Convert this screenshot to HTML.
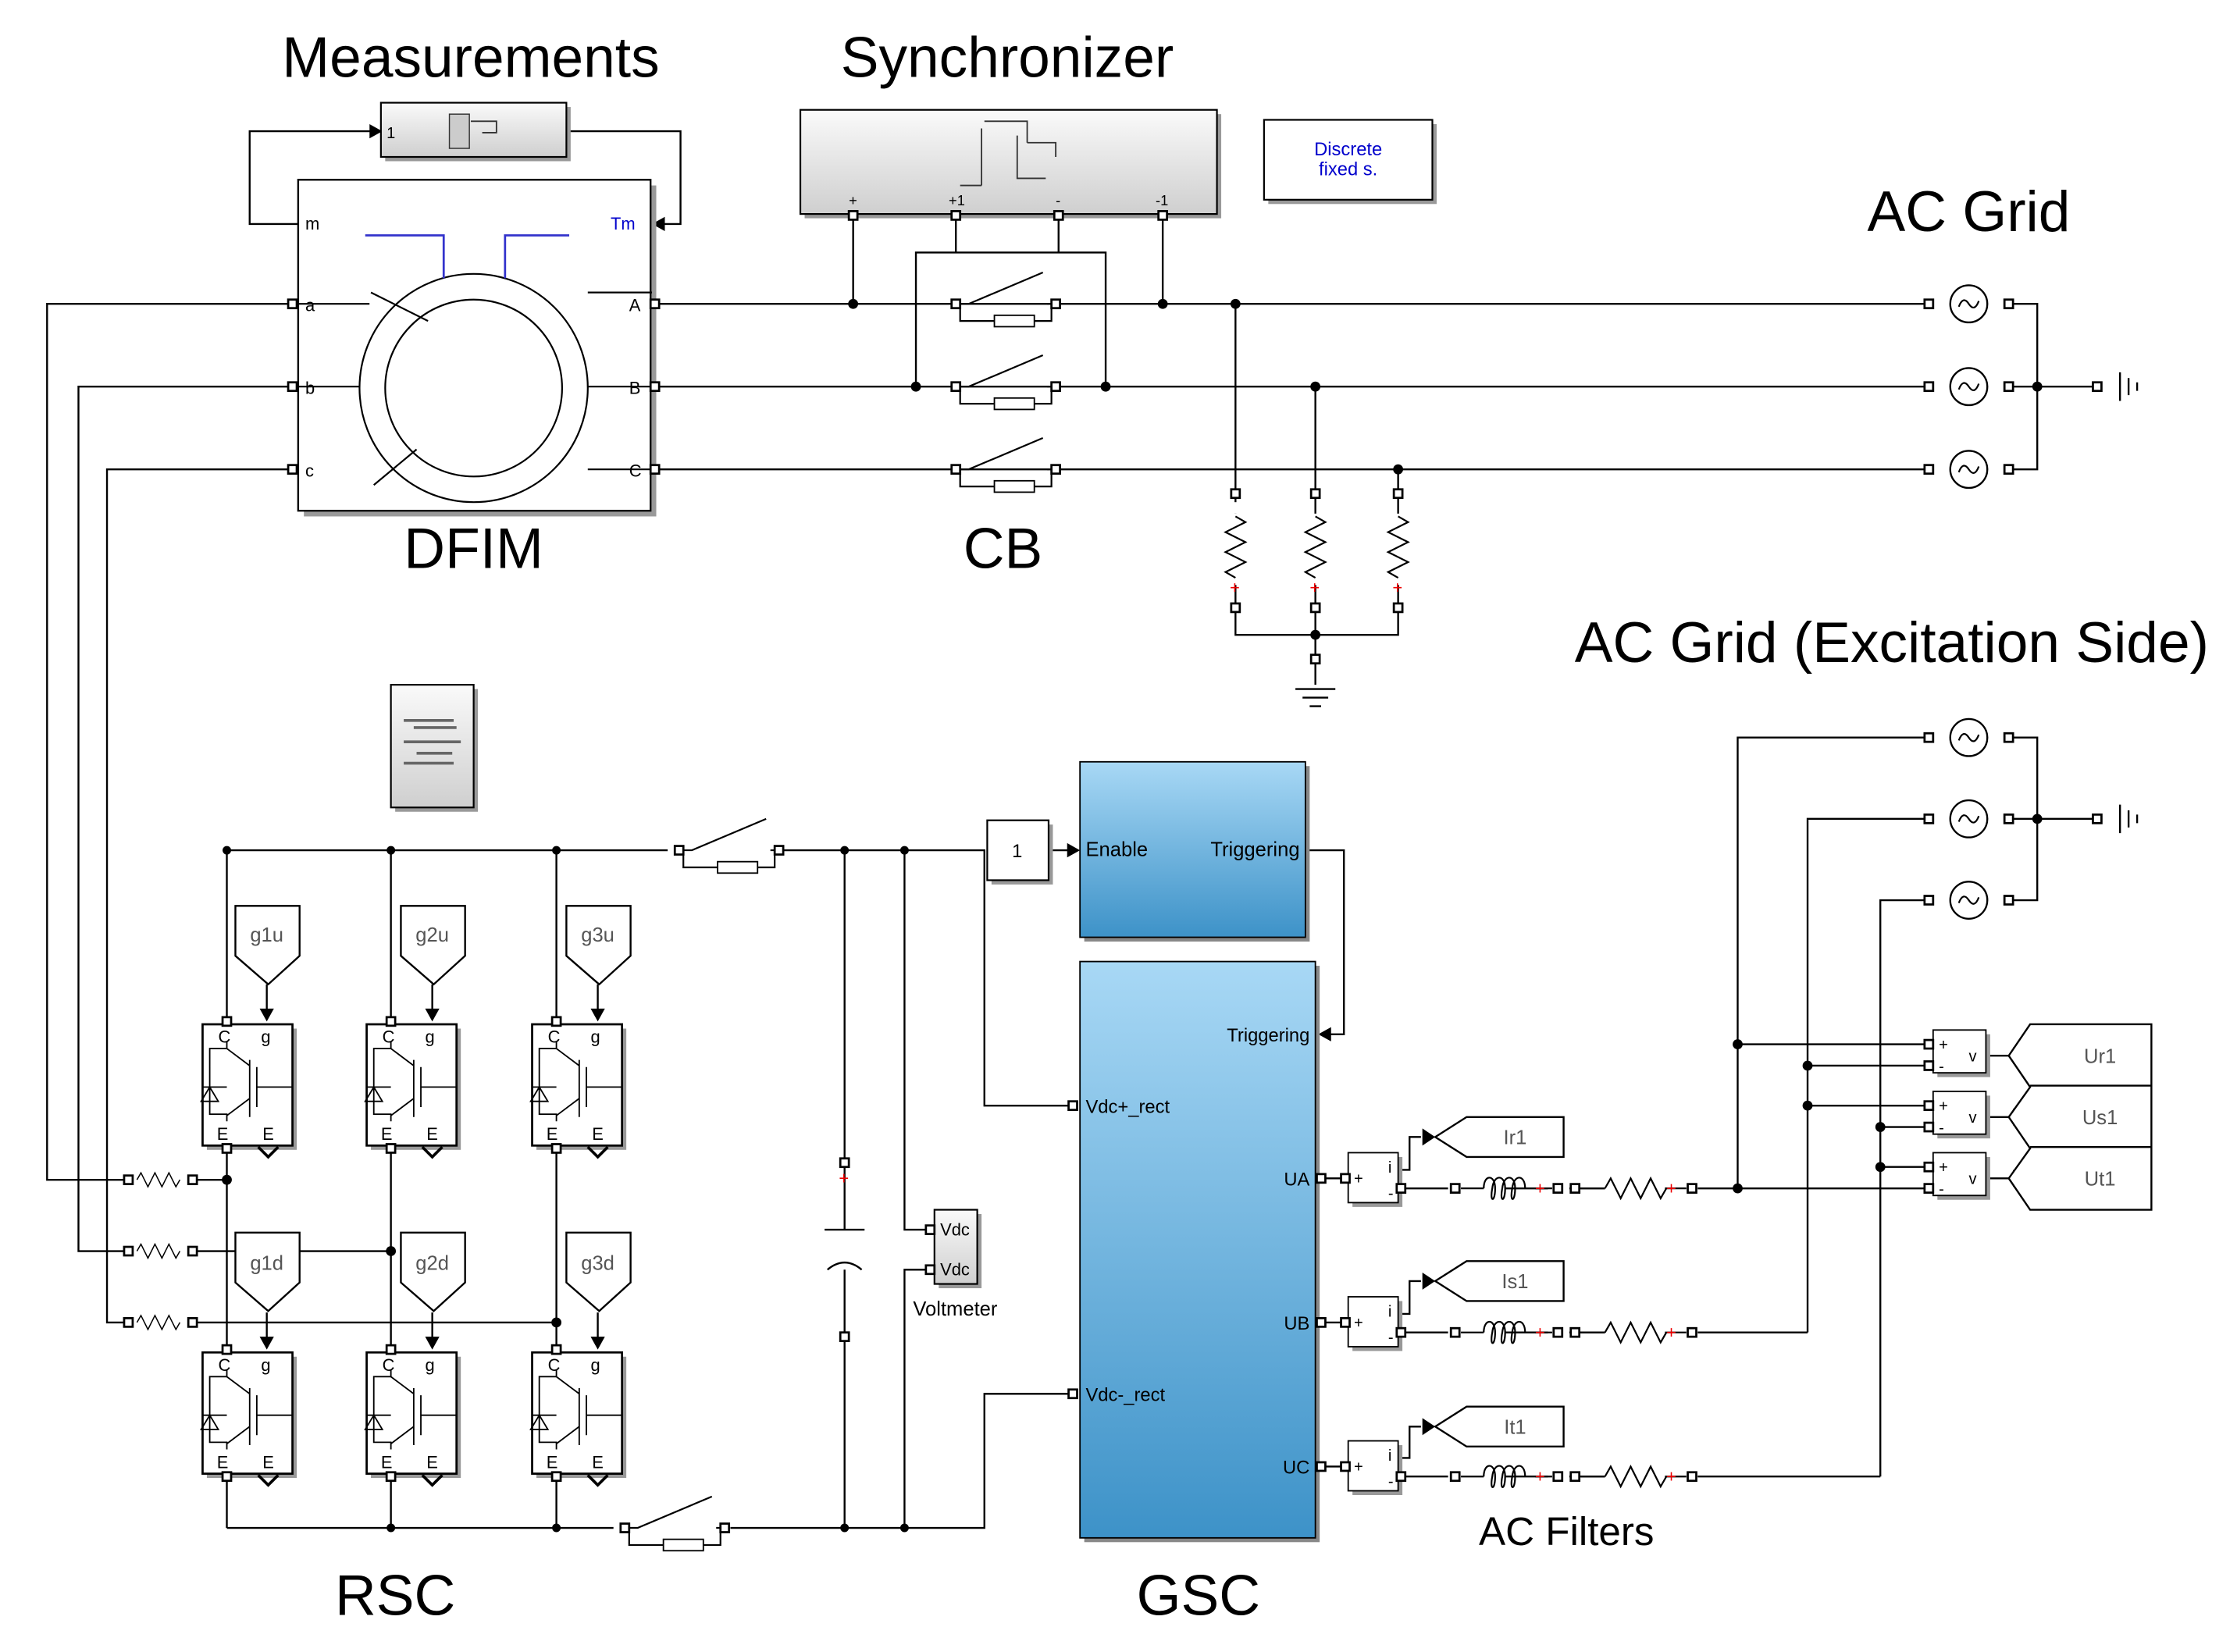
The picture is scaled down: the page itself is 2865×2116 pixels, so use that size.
<!DOCTYPE html>
<html><head><meta charset="utf-8"><style>
html,body{margin:0;padding:0;background:#fff}
svg{display:block}
text{font-family:"Liberation Sans",Arial,sans-serif}
</style></head><body>
<svg width="2865" height="2116" viewBox="0 0 1568 1158" preserveAspectRatio="none" xmlns="http://www.w3.org/2000/svg">
<defs>
<linearGradient id="gr" x1="0" y1="0" x2="0" y2="1"><stop offset="0" stop-color="#fafafa"/><stop offset="1" stop-color="#cfcfcf"/></linearGradient>
<linearGradient id="bl" x1="0" y1="0" x2="0" y2="1"><stop offset="0" stop-color="#a8d8f5"/><stop offset="1" stop-color="#3d92c8"/></linearGradient>
<g id="port"><rect x="-3" y="-3" width="6" height="6" fill="#fff" stroke="#000" stroke-width="1.5"/></g>
<g id="igbt">
<rect x="3" y="3" width="63" height="85" fill="#999"/>
<rect x="0" y="0" width="63" height="85" fill="#fff" stroke="#000" stroke-width="1.5"/>
<path d="M17 12 v5 h-12 v46 h12 v5 M17 17 l16 12 M33 25 v40 M33 52 l-16 12 M38 30 v28 M38 44 h25 M0 44 h17 M5 44 l-6 10 h12 z" fill="none" stroke="#000" stroke-width="1"/>
<use href="#port" x="17" y="-2"/><use href="#port" x="17" y="87"/>
<path d="M39 86 l7 7 l7 -7" fill="none" stroke="#000" stroke-width="2"/>
</g>
<g id="src"><circle r="13" fill="#fff" stroke="#000" stroke-width="1.3"/><path d="M-7 2 q3 -8 7 -2 q4 6 7 -2" fill="none" stroke="#000" stroke-width="1.2"/></g>
<g id="res"><path d="M0 0 l4 -7 l7 14 l7 -14 l7 14 l7 -14 l7 14 l4 -7" fill="none" stroke="#000" stroke-width="1.2"/></g>
<g id="ind"><path d="M0 0 c0 -10 8 -10 8 0 c0 10 -4 10 -2 0 c1 -10 9 -10 9 0 c0 10 -4 10 -2 0 c1 -10 9 -10 9 0 c0 10 -4 10 -2 0 c1 -10 9 -10 9 0" fill="none" stroke="#000" stroke-width="1.2"/></g>
<g id="tag"><path d="M0 0 h45 v35 l-22 20 l-23 -20 z" fill="#fff" stroke="#000" stroke-width="1.3"/></g>
<g id="tagL"><path d="M0 14 l22 -14 h68 v28 h-68 z" fill="#fff" stroke="#000" stroke-width="1.3"/></g>
<g id="brk"><use href="#port" x="0" y="0"/><use href="#port" x="70" y="0"/><path d="M3 0 h6 l52 -22 M64 0 h3 M3 0 v12 h24 M55 12 h12 v-12" fill="none" stroke="#000" stroke-width="1.2"/><rect x="27" y="8" width="28" height="8" fill="#fff" stroke="#000"/></g>
</defs>

<g font-size="40" text-anchor="middle" fill="#000">
<text x="330" y="54">Measurements</text>
<text x="706" y="54">Synchronizer</text>
<text x="1380" y="162">AC Grid</text>
<text x="332" y="398">DFIM</text>
<text x="703" y="398">CB</text>
<text x="1326" y="464">AC Grid (Excitation Side)</text>
<text x="277" y="1132">RSC</text>
<text x="840" y="1132">GSC</text>
<text x="1098" y="1083" font-size="28">AC Filters</text>
</g>

<g stroke="#000" stroke-width="1.3" fill="none">
<!-- measurement feedback -->
<path d="M210 157 H175 V92 H262"/>
<path d="M397 92 H477 V157 H462"/>
<!-- three phase main -->
<path d="M456 213 H1350 M456 271 H1350 M456 329 H1350"/>
<path d="M1410 213 H1428 V329 H1410 M1410 271 H1470"/>
<!-- sync -->
<path d="M598 150 V213 M670 150 V177 H642 V271 M742 150 V177 H775 V271 M670 177 H742 M815 150 V213"/>
<!-- loads -->
<path d="M866 213 V360 M922 271 V360 M980 329 V360 M866 410 V445 H980 V410 M922 410 V480"/>
<!-- left feeders -->
<path d="M206 213 H33 V827 H90 M206 271 H55 V877 H90 M206 329 H75 V927 H90"/>
<path d="M135 827 H159 M135 877 H274 M135 927 H390"/>
<!-- dc bus -->
<path d="M159 596 H468 M548 596 H690 V775 H752 M159 1071 H430 M512 1071 H690 V977 H752"/>
<path d="M159 596 V716 M274 596 V716 M390 596 V716 M159 805 V946 M274 805 V946 M390 805 V946 M159 1035 V1071 M274 1035 V1071 M390 1035 V1071"/>
<path d="M592 596 V862 M592 890 V1071 M634 596 V862 H655 M634 1071 V890 H655"/>
<path d="M578 862 h28 M580 890 q12 -10 24 0"/>
<!-- gate arrows -->
<path d="M187 690 V712 M303 690 V712 M419 690 V712 M187 920 V942 M303 920 V942 M419 920 V942"/>
<!-- enable/trigger -->
<path d="M735 596 H750 M915 596 H942 V725 H932"/>
<!-- GSC outputs -->
<path d="M922 826 H945 M922 927 H945 M922 1028 H945"/>
<path d="M980 820 H988 V797 H996 M980 921 H988 V898 H996 M980 1022 H988 V1000 H996"/>
<path d="M980 833 H1015 M1190 833 H1350 M980 934 H1015 M1190 934 H1267 M980 1035 H1015 M1190 1035 H1318"/>
<path d="M1055 833 H1085 M1100 833 H1125 M1055 934 H1085 M1100 934 H1125 M1055 1035 H1085 M1100 1035 H1125"/>
<!-- exc grid -->
<path d="M1218 833 V517 H1350 M1267 934 V574 H1350 M1318 1035 V631 H1350"/>
<path d="M1410 517 H1428 V631 H1410 M1410 574 H1470"/>
<path d="M1218 732 H1350 M1267 747 H1350 M1267 775 H1350 M1318 790 H1350 M1318 818 H1350"/>
<path d="M1392 740 H1410 M1392 783 H1410 M1392 826 H1410"/>
</g>

<!-- arrowheads -->
<g fill="#000">
<path d="M268 92 l-9 -5 v10z"/><path d="M457 157 l9 -5 v10z"/>
<path d="M757 596 l-9 -5 v10z"/><path d="M924 725 l9 -5 v10z"/>
<path d="M187 716 l-5 -9 h10z"/><path d="M303 716 l-5 -9 h10z"/><path d="M419 716 l-5 -9 h10z"/>
<path d="M187 946 l-5 -9 h10z"/><path d="M303 946 l-5 -9 h10z"/><path d="M419 946 l-5 -9 h10z"/>
<path d="M1006 797 l-9 -6 v12z"/><path d="M1006 898 l-9 -6 v12z"/><path d="M1006 1000 l-9 -6 v12z"/>
<path d="M1420 740 l-9 -6 v12z"/><path d="M1420 783 l-9 -6 v12z"/><path d="M1420 826 l-9 -6 v12z"/>
<circle cx="598" cy="213" r="3.5"/><circle cx="815" cy="213" r="3.5"/><circle cx="642" cy="271" r="3.5"/><circle cx="775" cy="271" r="3.5"/>
<circle cx="866" cy="213" r="3.5"/><circle cx="922" cy="271" r="3.5"/><circle cx="980" cy="329" r="3.5"/><circle cx="922" cy="445" r="3.5"/>
<circle cx="1428" cy="271" r="3.5"/><circle cx="1428" cy="574" r="3.5"/>
<circle cx="159" cy="827" r="3.5"/><circle cx="274" cy="877" r="3.5"/><circle cx="390" cy="927" r="3.5"/>
<circle cx="159" cy="596" r="3"/><circle cx="274" cy="596" r="3"/><circle cx="390" cy="596" r="3"/>
<circle cx="274" cy="1071" r="3"/><circle cx="390" cy="1071" r="3"/>
<circle cx="592" cy="596" r="3"/><circle cx="634" cy="596" r="3"/><circle cx="592" cy="1071" r="3"/><circle cx="634" cy="1071" r="3"/>
<circle cx="1218" cy="833" r="3.5"/><circle cx="1218" cy="732" r="3.5"/><circle cx="1267" cy="747" r="3.5"/><circle cx="1267" cy="775" r="3.5"/><circle cx="1318" cy="790" r="3.5"/><circle cx="1318" cy="818" r="3.5"/>
</g>

<!-- grounds -->
<g stroke="#000" stroke-width="1.3">
<path d="M908 483 h28 M913 489 h18 M918 495 h8"/>
<path d="M1486 261 v20 M1492 265 v12 M1498 268 v6"/>
<path d="M1486 564 v20 M1492 568 v12 M1498 571 v6"/>
</g>
<use href="#port" x="1470" y="271"/><use href="#port" x="1470" y="574"/>
<use href="#port" x="922" y="462"/>

<!-- Measurements block -->
<rect x="270" y="75" width="130" height="38" fill="#999"/>
<rect x="267" y="72" width="130" height="38" fill="url(#gr)" stroke="#000" stroke-width="1.2"/>
<text x="271" y="97" font-size="11">1</text>
<rect x="315" y="80" width="14" height="24" fill="#ccc" stroke="#333" stroke-width="0.8"/>
<path d="M330 85 h18 v8 h-10" fill="none" stroke="#333"/>

<!-- DFIM -->
<rect x="213" y="130" width="247" height="232" fill="#999"/>
<rect x="209" y="126" width="247" height="232" fill="#fff" stroke="#000" stroke-width="1.3"/>
<g stroke="#000" stroke-width="1.2" fill="none">
<circle cx="332" cy="272" r="80"/><circle cx="332" cy="272" r="62"/>
<path d="M260 205 l40 20 M412 205 h45 M412 329 h45 M412 271 h45 M252 271 h-43 M262 340 l30 -25 M209 213 h50"/>
</g>
<path d="M256 165 h55 v30 M354 195 v-30 h45" fill="none" stroke="#33c" stroke-width="1.5"/>
<g font-size="12"><text x="214" y="161">m</text><text x="428" y="161" fill="#00c">Tm</text>
<text x="214" y="218">a</text><text x="214" y="276">b</text><text x="214" y="334">c</text>
<text x="441" y="218">A</text><text x="441" y="276">B</text><text x="441" y="334">C</text></g>
<use href="#port" x="205" y="213"/><use href="#port" x="205" y="271"/><use href="#port" x="205" y="329"/>
<use href="#port" x="459" y="213"/><use href="#port" x="459" y="271"/><use href="#port" x="459" y="329"/>

<!-- Synchronizer -->
<rect x="564" y="80" width="292" height="73" fill="#999"/>
<rect x="561" y="77" width="292" height="73" fill="url(#gr)" stroke="#000" stroke-width="1.2"/>
<path d="M690 85 h30 v15 M688 90 v40 M673 130 h15 M713 95 v30 h20 M720 100 h20 v10" fill="none" stroke="#333"/>
<g font-size="10"><text x="595" y="144">+</text><text x="665" y="144">+1</text><text x="740" y="144">-</text><text x="810" y="144">-1</text></g>
<use href="#port" x="598" y="151"/><use href="#port" x="670" y="151"/><use href="#port" x="742" y="151"/><use href="#port" x="815" y="151"/>
<rect x="889" y="87" width="118" height="56" fill="#999"/>
<rect x="886" y="84" width="118" height="56" fill="#fff" stroke="#000" stroke-width="1.2"/>
<text x="945" y="109" font-size="13" fill="#00c" text-anchor="middle">Discrete</text>
<text x="945" y="123" font-size="13" fill="#00c" text-anchor="middle">fixed s.</text>

<!-- breakers -->
<use href="#brk" x="670" y="213"/><use href="#brk" x="670" y="271"/><use href="#brk" x="670" y="329"/>
<use href="#brk" x="476" y="596"/><use href="#brk" x="438" y="1071"/>

<!-- loads -->
<use href="#port" x="866" y="346"/><use href="#port" x="922" y="346"/><use href="#port" x="980" y="346"/>
<use href="#port" x="866" y="426"/><use href="#port" x="922" y="426"/><use href="#port" x="980" y="426"/>
<g transform="translate(866 362) rotate(90)"><use href="#res"/></g>
<g transform="translate(922 362) rotate(90)"><use href="#res"/></g>
<g transform="translate(980 362) rotate(90)"><use href="#res"/></g>
<g fill="#e00" font-size="12"><text x="862" y="416">+</text><text x="918" y="416">+</text><text x="976" y="416">+</text></g>
<rect x="864" y="352" width="4" height="8" fill="#fff"/>

<!-- AC grid sources -->
<use href="#src" x="1380" y="213"/><use href="#src" x="1380" y="271"/><use href="#src" x="1380" y="329"/>
<use href="#src" x="1380" y="517"/><use href="#src" x="1380" y="574"/><use href="#src" x="1380" y="631"/>
<g>
<use href="#port" x="1352" y="213"/><use href="#port" x="1408" y="213"/><use href="#port" x="1352" y="271"/><use href="#port" x="1408" y="271"/><use href="#port" x="1352" y="329"/><use href="#port" x="1408" y="329"/>
<use href="#port" x="1352" y="517"/><use href="#port" x="1408" y="517"/><use href="#port" x="1352" y="574"/><use href="#port" x="1408" y="574"/><use href="#port" x="1352" y="631"/><use href="#port" x="1408" y="631"/>
</g>

<!-- powergui-like block -->
<rect x="277" y="483" width="58" height="86" fill="#999"/>
<rect x="274" y="480" width="58" height="86" fill="url(#gr)" stroke="#000" stroke-width="1.2"/>
<path d="M283 505 h35 M283 520 h40 M283 535 h35 M290 510 h30 M292 528 h25" stroke="#666" stroke-width="2"/>

<!-- gate tags -->
<use href="#tag" x="165" y="635"/><use href="#tag" x="281" y="635"/><use href="#tag" x="397" y="635"/>
<use href="#tag" x="165" y="864"/><use href="#tag" x="281" y="864"/><use href="#tag" x="397" y="864"/>
<g font-size="14" fill="#555" text-anchor="middle">
<text x="187" y="660">g1u</text><text x="303" y="660">g2u</text><text x="419" y="660">g3u</text>
<text x="187" y="890">g1d</text><text x="303" y="890">g2d</text><text x="419" y="890">g3d</text></g>

<!-- IGBTs -->
<use href="#igbt" x="142" y="718"/><use href="#igbt" x="257" y="718"/><use href="#igbt" x="373" y="718"/>
<use href="#igbt" x="142" y="948"/><use href="#igbt" x="257" y="948"/><use href="#igbt" x="373" y="948"/>
<g font-size="12">
<text x="153" y="731">C</text><text x="183" y="731">g</text><text x="152" y="799">E</text><text x="184" y="799">E</text>
<text x="268" y="731">C</text><text x="298" y="731">g</text><text x="267" y="799">E</text><text x="299" y="799">E</text>
<text x="384" y="731">C</text><text x="414" y="731">g</text><text x="383" y="799">E</text><text x="415" y="799">E</text>
<text x="153" y="961">C</text><text x="183" y="961">g</text><text x="152" y="1029">E</text><text x="184" y="1029">E</text>
<text x="268" y="961">C</text><text x="298" y="961">g</text><text x="267" y="1029">E</text><text x="299" y="1029">E</text>
<text x="384" y="961">C</text><text x="414" y="961">g</text><text x="383" y="1029">E</text><text x="415" y="1029">E</text>
</g>

<!-- RSC input resistors -->
<use href="#port" x="90" y="827"/><use href="#port" x="135" y="827"/><use href="#port" x="90" y="877"/><use href="#port" x="135" y="877"/><use href="#port" x="90" y="927"/><use href="#port" x="135" y="927"/>
<g transform="translate(96 827) scale(0.7)"><use href="#res"/></g>
<g transform="translate(96 877) scale(0.7)"><use href="#res"/></g>
<g transform="translate(96 927) scale(0.7)"><use href="#res"/></g>

<!-- capacitor ports -->
<use href="#port" x="592" y="815"/><use href="#port" x="592" y="937"/>
<text x="588" y="830" fill="#e00" font-size="12">+</text>

<!-- voltmeter -->
<rect x="658" y="851" width="30" height="52" fill="#999"/>
<rect x="655" y="848" width="30" height="52" fill="url(#gr)" stroke="#000" stroke-width="1.2"/>
<text x="659" y="866" font-size="12">Vdc</text><text x="659" y="894" font-size="12">Vdc</text>
<use href="#port" x="652" y="862"/><use href="#port" x="652" y="890"/>
<text x="640" y="922" font-size="14">Voltmeter</text>

<!-- constant -->
<rect x="695" y="578" width="43" height="42" fill="#999"/>
<rect x="692" y="575" width="43" height="42" fill="#fff" stroke="#000" stroke-width="1.2"/>
<text x="713" y="601" font-size="13" text-anchor="middle">1</text>

<!-- GSC blocks -->
<rect x="760" y="537" width="158" height="123" fill="#888"/>
<rect x="757" y="534" width="158" height="123" fill="url(#bl)" stroke="#000" stroke-width="1"/>
<text x="761" y="600" font-size="14">Enable</text><text x="911" y="600" font-size="14" text-anchor="end">Triggering</text>
<rect x="760" y="677" width="165" height="404" fill="#888"/>
<rect x="757" y="674" width="165" height="404" fill="url(#bl)" stroke="#000" stroke-width="1"/>
<g font-size="13">
<text x="918" y="730" text-anchor="end">Triggering</text>
<text x="761" y="780">Vdc+_rect</text><text x="761" y="982">Vdc-_rect</text>
<text x="918" y="831" text-anchor="end">UA</text><text x="918" y="932" text-anchor="end">UB</text><text x="918" y="1033" text-anchor="end">UC</text>
</g>
<use href="#port" x="752" y="775"/><use href="#port" x="752" y="977"/>
<use href="#port" x="926" y="826"/><use href="#port" x="926" y="927"/><use href="#port" x="926" y="1028"/>

<!-- current meas -->
<g>
<rect x="948" y="811" width="35" height="35" fill="#999"/><rect x="945" y="808" width="35" height="35" fill="#fff" stroke="#000"/>
<rect x="948" y="912" width="35" height="35" fill="#999"/><rect x="945" y="909" width="35" height="35" fill="#fff" stroke="#000"/>
<rect x="948" y="1013" width="35" height="35" fill="#999"/><rect x="945" y="1010" width="35" height="35" fill="#fff" stroke="#000"/>
</g>
<g font-size="11"><text x="949" y="830">+</text><text x="973" y="822">i</text><text x="973" y="840">-</text>
<text x="949" y="931">+</text><text x="973" y="923">i</text><text x="973" y="941">-</text>
<text x="949" y="1032">+</text><text x="973" y="1024">i</text><text x="973" y="1042">-</text></g>
<use href="#port" x="943" y="826"/><use href="#port" x="982" y="833"/><use href="#port" x="943" y="927"/><use href="#port" x="982" y="934"/><use href="#port" x="943" y="1028"/><use href="#port" x="982" y="1035"/>
<use href="#tagL" x="1006" y="783"/><use href="#tagL" x="1006" y="884"/><use href="#tagL" x="1006" y="986"/>
<g font-size="14" fill="#555" text-anchor="middle"><text x="1062" y="802">Ir1</text><text x="1062" y="903">Is1</text><text x="1062" y="1005">It1</text></g>

<!-- filters -->
<g>
<use href="#port" x="1020" y="833"/><use href="#ind" x="1040" y="833"/><use href="#port" x="1092" y="833"/><use href="#port" x="1104" y="833"/><use href="#res" x="1125" y="833"/><use href="#port" x="1186" y="833"/>
<use href="#port" x="1020" y="934"/><use href="#ind" x="1040" y="934"/><use href="#port" x="1092" y="934"/><use href="#port" x="1104" y="934"/><use href="#res" x="1125" y="934"/><use href="#port" x="1186" y="934"/>
<use href="#port" x="1020" y="1035"/><use href="#ind" x="1040" y="1035"/><use href="#port" x="1092" y="1035"/><use href="#port" x="1104" y="1035"/><use href="#res" x="1125" y="1035"/><use href="#port" x="1186" y="1035"/>
</g>
<path d="M1024 833 h16 M1076 833 h12 M1024 934 h16 M1076 934 h12 M1024 1035 h16 M1076 1035 h12 M1108 833 h17 M1108 934 h17 M1108 1035 h17 M1167 833 h15 M1167 934 h15 M1167 1035 h15" stroke="#000" stroke-width="1.2"/>
<g fill="#e00" font-size="12"><text x="1076" y="837">+</text><text x="1168" y="837">+</text><text x="1076" y="938">+</text><text x="1168" y="938">+</text><text x="1076" y="1039">+</text><text x="1168" y="1039">+</text></g>

<!-- voltage meas -->
<g>
<rect x="1358" y="725" width="37" height="30" fill="#999"/><rect x="1355" y="722" width="37" height="30" fill="#fff" stroke="#000"/>
<rect x="1358" y="768" width="37" height="30" fill="#999"/><rect x="1355" y="765" width="37" height="30" fill="#fff" stroke="#000"/>
<rect x="1358" y="811" width="37" height="30" fill="#999"/><rect x="1355" y="808" width="37" height="30" fill="#fff" stroke="#000"/>
</g>
<g font-size="11"><text x="1359" y="736">+</text><text x="1359" y="751">-</text><text x="1380" y="744">v</text>
<text x="1359" y="779">+</text><text x="1359" y="794">-</text><text x="1380" y="787">v</text>
<text x="1359" y="822">+</text><text x="1359" y="837">-</text><text x="1380" y="830">v</text></g>
<use href="#port" x="1352" y="732"/><use href="#port" x="1352" y="747"/><use href="#port" x="1352" y="775"/><use href="#port" x="1352" y="790"/><use href="#port" x="1352" y="818"/><use href="#port" x="1352" y="833"/>
<path d="M1423 718 h85 v130 h-85 l-15 -22 l15 -21 l-15 -22 l15 -21 l-15 -22 z M1423 761 h85 M1423 804 h85" fill="#fff" stroke="#000" stroke-width="1.3"/>
<g font-size="14" fill="#555" text-anchor="middle"><text x="1472" y="745">Ur1</text><text x="1472" y="788">Us1</text><text x="1472" y="831">Ut1</text></g>
</svg>
</body></html>
